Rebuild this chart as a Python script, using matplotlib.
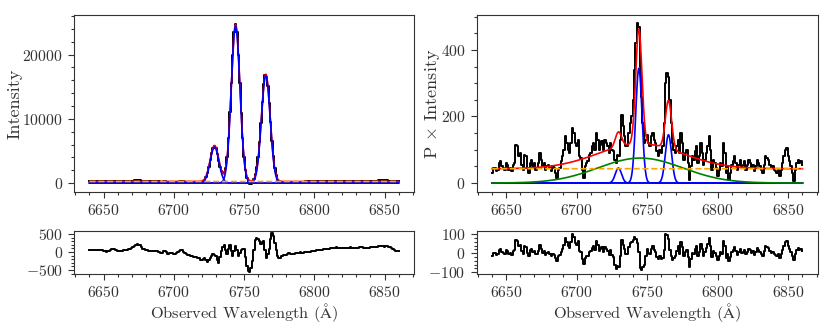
import numpy as np
import matplotlib
matplotlib.use("Agg")
import matplotlib.pyplot as plt
from matplotlib.ticker import AutoMinorLocator, MultipleLocator

plt.rcParams['font.family'] = ['cmr10', 'DejaVu Serif']
plt.rcParams['mathtext.fontset'] = 'cm'
plt.rcParams['axes.formatter.use_mathtext'] = True
plt.rcParams['font.size'] = 12

# bin centres (Angstrom), 1 A bins
wavelength = np.arange(6640, 6861, 1)

# left column: total intensity fit (centre, amplitude, sigma)
int_centres = [6729.0, 6744.0, 6765.5]
int_amps = [5600, 24400, 16700]
int_sigmas = [3.1, 3.1, 3.1]
int_continuum = 250
# residual (data - model)
int_resid = [60, 55, 50, 50, 55, 50, 45, 50, 60, 55,
             40, 20, 0, 15, 30, 50, 80, 90, 90, 60,
             30, 25, 20, 35, 50, 55, 60, 65, 70, 90,
             110, 140, 170, 200, 210, 205, 190, 140, 90, 70,
             60, 50, 40, 35, 30, 35, 40, 30, 20, 10,
             0, -15, -30, 40, 40, -10, -50, -30, -20, -40,
             -60, -45, -30, -5, 20, 60, 60, 10, -30, -50,
             -70, -85, -100, -115, -130, -140, -150, -165, -180, -210,
             -230, -200, -170, -230, -280, -230, -180, -120, -60, -80,
             -120, -220, -300, -150, 30, 150, 190, 60, -50, 80,
             190, 40, -120, 40, 180, 60, -100, -20, 60, 90,
             80, -150, -400, -530, -560, -450, -250, 50, 320, 380,
             370, 300, 220, 280, 300, 60, -170, -60, 90, 350,
             520, 450, 250, 50, -120, -170, -160, -120, -90, -85,
             -80, -50, -30, -50, -60, -55, -50, -40, -30, -20,
             -10, -15, -20, -5, 10, 5, 0, 10, 20, 25,
             30, 40, 50, 55, 60, 55, 50, 70, 90, 85,
             80, 90, 100, 105, 110, 120, 130, 115, 100, 110,
             120, 115, 110, 105, 100, 115, 130, 125, 120, 115,
             110, 125, 140, 135, 130, 120, 110, 115, 120, 125,
             130, 140, 150, 145, 140, 150, 160, 165, 170, 160,
             150, 155, 160, 145, 130, 105, 80, 55, 30, 25,
             20]

# right column: polarised intensity
pi_flux = [30, 45, 45, 35, 40, 60, 65, 50, 45, 40,
           60, 55, 40, 45, 35, 55, 60, 115, 110, 80,
           90, 55, 40, 85, 80, 45, 30, 60, 70, 50,
           60, 40, 45, 60, 90, 70, 50, 60, 40, 50,
           55, 45, 35, 50, 45, 30, 15, 40, 45, 65,
           80, 100, 140, 120, 100, 90, 120, 165, 150, 120,
           110, 130, 80, 75, 40, 15, 50, 60, 65, 85,
           90, 110, 120, 100, 150, 130, 100, 115, 125, 100,
           130, 120, 110, 90, 120, 100, 95, 70, 60, 85,
           80, 130, 205, 170, 140, 110, 110, 150, 180, 200,
           250, 340, 420, 480, 470, 350, 260, 180, 120, 130,
           145, 120, 110, 140, 150, 130, 120, 95, 80, 100,
           90, 110, 180, 300, 330, 320, 250, 180, 120, 100,
           90, 110, 130, 90, 150, 120, 70, 90, 100, 60,
           10, 50, 80, 70, 95, 110, 60, 80, 120, 90,
           55, 70, 90, 110, 140, 100, 40, 70, 60, 45,
           20, 40, 60, 50, 120, 90, 30, 50, 10, 30,
           55, 65, 80, 60, 40, 55, 70, 50, 55, 65,
           40, 55, 70, 60, 45, 55, 35, 50, 70, 60,
           50, 40, 30, 55, 80, 75, 70, 55, 45, 50,
           40, 35, 30, 40, 20, 40, 60, 80, 100, 105,
           80, 65, 50, 30, 5, 40, 60, 70, 60, 65,
           55]
pi_centres = [6729.5, 6744.0, 6765.0]
pi_amps = [45, 345, 145]
pi_sigmas = [2.2, 2.2, 2.2]
pi_broad_centre, pi_broad_amp, pi_broad_sigma = 6745.0, 75, 30.0
pi_continuum = 43


def gauss(x, amp, cen, sig):
    return amp * np.exp(-0.5 * ((x - cen) / sig) ** 2)


fine = np.linspace(6640, 6860, 1101)

# build model curves
int_comps = [gauss(fine, a, c, s) for c, a, s in zip(int_centres, int_amps, int_sigmas)]
int_model = int_continuum + sum(int_comps)
int_model_bins = int_continuum + sum(gauss(wavelength, a, c, s)
                                     for c, a, s in zip(int_centres, int_amps, int_sigmas))
int_flux = int_model_bins + np.array(int_resid)

pi_comps = [gauss(fine, a, c, s) for c, a, s in zip(pi_centres, pi_amps, pi_sigmas)]
pi_broad = gauss(fine, pi_broad_amp, pi_broad_centre, pi_broad_sigma)
pi_model = pi_continuum + pi_broad + sum(pi_comps)
pi_model_bins = (pi_continuum + gauss(wavelength, pi_broad_amp, pi_broad_centre, pi_broad_sigma)
                 + sum(gauss(wavelength, a, c, s) for c, a, s in zip(pi_centres, pi_amps, pi_sigmas)))
pi_resid = np.array(pi_flux) - pi_model_bins

fig = plt.figure(figsize=(8.3, 3.32), dpi=100)
ax1 = fig.add_axes([0.0892, 0.4217, 0.4096, 0.533])
ax2 = fig.add_axes([0.0892, 0.1747, 0.4096, 0.1304])
ax3 = fig.add_axes([0.5743, 0.4217, 0.4112, 0.533])
ax4 = fig.add_axes([0.5743, 0.1747, 0.4112, 0.1304])

tc = '#333333'

# total intensity
ax1.step(wavelength, int_flux, where='mid', color='black', lw=1.4)
ax1.plot(fine, int_model, color='red', lw=1.2)
for comp in int_comps:
    ax1.plot(fine, comp, color='blue', lw=1.2)
ax1.plot(fine, np.full_like(fine, int_continuum), color='orange', ls='--', lw=1.2)
ax1.set_ylabel('Intensity', fontsize=13)
ax1.yaxis.set_label_coords(-0.15, 0.5)
ax1.set_ylim(-1385, 26150)
ax1.yaxis.set_major_locator(MultipleLocator(10000))

ax2.step(wavelength, int_resid, where='mid', color='black', lw=1.4)
ax2.set_ylim(-611, 592)
ax2.yaxis.set_major_locator(MultipleLocator(500))

# polarised intensity
ax3.step(wavelength, pi_flux, where='mid', color='black', lw=1.4)
ax3.plot(fine, pi_model, color='red', lw=1.2)
for comp in pi_comps:
    ax3.plot(fine, comp, color='blue', lw=1.2)
ax3.plot(fine, pi_broad, color='green', lw=1.2)
ax3.plot(fine, np.full_like(fine, pi_continuum), color='orange', ls='--', lw=1.2)
ax3.set_ylabel(r'P $\times$ Intensity', fontsize=13)
ax3.yaxis.set_label_coords(-0.103, 0.5)
ax3.set_ylim(-27, 505)
ax3.yaxis.set_major_locator(MultipleLocator(200))

ax4.step(wavelength, pi_resid, where='mid', color='black', lw=1.4)
ax4.set_ylim(-109, 118)
ax4.yaxis.set_major_locator(MultipleLocator(100))

for ax in (ax1, ax2, ax3, ax4):
    ax.set_xlim(6629, 6871)
    ax.xaxis.set_major_locator(MultipleLocator(50))
    ax.xaxis.set_minor_locator(AutoMinorLocator(5))
    ax.yaxis.set_minor_locator(AutoMinorLocator())
    ax.tick_params(which='both', direction='out', colors=tc, labelcolor=tc,
                   width=0.8, labelsize=11.3)
    ax.tick_params(which='major', length=4.5)
    ax.tick_params(which='minor', length=2.5)
    for sp in ax.spines.values():
        sp.set_color(tc)
        sp.set_linewidth(0.8)
    ax.yaxis.label.set_color(tc)
    ax.xaxis.label.set_color(tc)

for ax in (ax2, ax4):
    ax.set_xlabel(r'Observed Wavelength ($\mathrm{\AA}$)', color=tc, fontsize=11.8)
    ax.xaxis.set_label_coords(0.5, -0.62)

fig.savefig('out.png', dpi=100)
